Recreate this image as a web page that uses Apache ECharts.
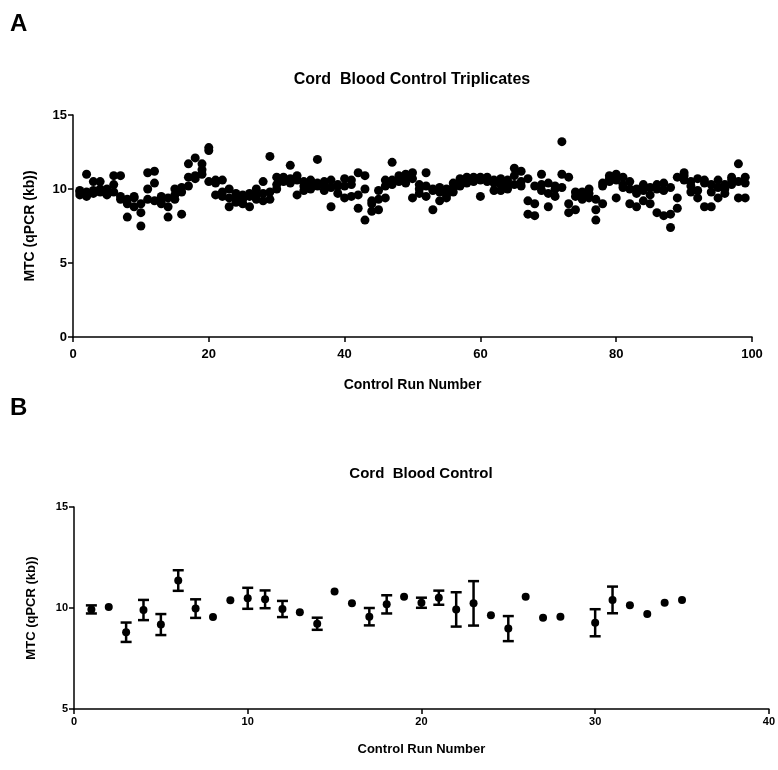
<!DOCTYPE html>
<html>
<head>
<meta charset="utf-8">
<script src="https://cdn.jsdelivr.net/npm/echarts@6/dist/echarts.min.js"></script>
<style>
html,body{margin:0;padding:0;background:#fff;}
#chart{width:778px;height:770px;}
</style>
</head>
<body>
<div id="chart"></div>
<script>
// Panel A: triplicate values per control run (runs 1..99)
var runsA = [];
for (var i = 1; i <= 99; i++) runsA.push(i);
var rep1 = [9.6,11.0,10.5,10.5,10.0,10.9,10.9,8.1,9.4,8.4,11.1,11.2,9.5,8.1,9.6,8.3,11.7,12.1,11.7,12.8,
            10.6,10.6,10.0,9.4,9.0,8.8,10.0,10.5,12.2,10.3,10.8,11.6,9.6,10.2,10.6,12.0,9.9,8.8,10.3,9.4,
            10.6,11.1,10.9,9.2,8.6,9.4,11.8,10.7,11.0,11.1,10.3,11.1,8.6,9.2,9.6,10.4,10.7,10.8,10.8,9.5,
            10.7,9.9,9.9,10.6,11.4,11.2,9.2,9.0,11.0,10.4,10.0,13.2,10.8,8.6,9.3,9.7,8.6,9.0,10.9,9.4,
            10.8,9.0,8.8,9.9,10.1,8.4,8.2,7.4,9.4,11.1,10.2,9.4,8.8,8.8,10.6,10.3,10.6,11.7,10.8];
var rep2 = [9.9,9.5,9.7,9.8,9.7,10.3,9.5,9.3,8.8,7.5,10.0,10.4,9.2,8.8,10.0,10.1,10.8,10.7,11.3,12.6,
            9.6,9.8,8.8,9.7,9.6,9.5,9.3,9.7,9.3,10.0,10.5,10.7,10.6,10.5,10.0,10.4,10.3,10.6,10.2,10.7,
            9.5,8.7,7.9,9.0,9.9,10.2,10.6,10.9,10.8,9.4,9.7,9.5,9.9,9.8,10.0,9.8,10.5,10.6,10.5,10.8,
            10.5,10.6,10.3,10.0,10.3,10.5,8.3,8.2,9.9,8.8,9.5,10.1,9.0,9.5,9.8,9.4,7.9,10.4,10.5,11.0,
            10.1,10.0,9.7,9.2,9.0,10.0,10.4,8.3,8.7,10.9,9.8,10.7,10.4,9.8,9.4,9.7,10.8,9.4,9.4];
var rep3 = [9.8,9.8,9.9,10.0,9.6,9.8,9.3,9.0,9.5,9.0,9.3,9.2,9.0,9.4,9.3,9.8,10.2,10.9,11.0,10.5,
            10.4,9.5,9.4,9.1,9.3,9.7,9.6,9.2,9.8,10.8,10.6,10.4,10.9,9.9,10.3,10.2,10.5,10.1,9.7,10.2,
            10.3,9.6,10.0,8.5,9.3,10.6,10.3,10.5,10.4,10.7,10.0,10.2,10.0,10.1,9.4,10.1,10.2,10.4,10.6,10.6,
            10.8,10.4,10.7,10.4,10.9,10.2,10.7,10.2,10.3,9.7,10.2,11.0,8.4,9.8,9.6,10.0,9.3,10.2,10.7,10.6,
            10.3,10.5,10.0,10.3,9.6,10.3,9.9,10.1,10.8,10.6,10.5,9.9,10.6,10.3,10.1,10.0,10.3,10.5,10.4];

// Panel B: mean and error (half-length) per control run
var runsB = [1,2,3,4,5,6,7,8,9,10,11,12,13,14,15,16,17,18,19,20,21,22,23,24,25,26,27,28,30,31,32,33,34,35];
var meanB = [9.93,10.05,8.80,9.90,9.18,11.36,9.97,9.55,10.38,10.48,10.43,9.95,9.79,9.22,10.82,10.23,9.57,10.18,10.56,10.26,
             10.51,9.93,10.23,9.64,8.98,10.56,9.52,9.57,9.27,10.40,10.13,9.70,10.26,10.40];
var errB  = [0.2,0,0.48,0.5,0.52,0.51,0.46,0,0,0.52,0.44,0.4,0,0.3,0,0,0.43,0.45,0,0.25,
             0.35,0.85,1.1,0,0.62,0,0,0,0.67,0.66,0,0,0,0];

var ticksAx = [0,20,40,60,80,100];
var ticksAy = [0,5,10,15];
var ticksBx = [0,10,20,30,40];
var ticksBy = [5,10,15];

var scatterA = [];
for (var k = 0; k < runsA.length; k++) {
  scatterA.push([runsA[k], rep1[k]]);
  scatterA.push([runsA[k], rep2[k]]);
  scatterA.push([runsA[k], rep3[k]]);
}
var meanData = runsB.map(function(r, i){ return [r, meanB[i]]; });
var errData = [];
runsB.forEach(function(r, i){ if (errB[i] > 0) errData.push([r, meanB[i]-errB[i], meanB[i]+errB[i]]); });

var FONT = 'Liberation Sans, Arial, sans-serif';
function axisCommon(extra){
  var base = {
    axisLine:{show:true, onZero:false, lineStyle:{color:'#000', width:1.5}},
    axisTick:{show:true, inside:false, length:5, lineStyle:{color:'#000', width:1.5}},
    splitLine:{show:false},
    axisLabel:{color:'#000', fontFamily:FONT, fontWeight:'bold', fontSize:13, margin:6},
    nameTextStyle:{color:'#000', fontFamily:FONT, fontWeight:'bold', fontSize:14}
  };
  for (var key in extra) base[key] = extra[key];
  return base;
}

var chart = echarts.init(document.getElementById('chart'), null, {renderer:'canvas'});
var option = {
  backgroundColor:'#fff',
  animation:false,
  grid:[
    {left:73, top:115, width:679, height:222},
    {left:74, top:507, width:696, height:202}
  ],
  xAxis:[
    axisCommon({gridIndex:0, type:'value', min:0, max:100, interval:20, name:'Control Run Number', nameLocation:'middle', nameGap:41,
      axisLabel:{color:'#000', fontFamily:FONT, fontWeight:'bold', fontSize:13, margin:11}}),
    axisCommon({gridIndex:1, type:'value', min:0, max:40, interval:10, name:'Control Run Number', nameLocation:'middle', nameGap:34,
      axisLabel:{color:'#000', fontFamily:FONT, fontWeight:'bold', fontSize:11, margin:7},
      nameTextStyle:{color:'#000', fontFamily:FONT, fontWeight:'bold', fontSize:13}})
  ],
  yAxis:[
    axisCommon({gridIndex:0, type:'value', min:0, max:15, interval:5, name:'MTC (qPCR (kb))', nameLocation:'middle', nameGap:36}),
    axisCommon({gridIndex:1, type:'value', min:5, max:15, interval:5, name:'MTC (qPCR (kb))', nameLocation:'middle', nameGap:36,
      axisLabel:{color:'#000', fontFamily:FONT, fontWeight:'bold', fontSize:11, margin:6},
      nameTextStyle:{color:'#000', fontFamily:FONT, fontWeight:'bold', fontSize:13}})
  ],
  graphic:[
    {type:'text', left:10, top:12, style:{text:'A', font:'bold 24px ' + FONT, fill:'#000'}},
    {type:'text', left:10, top:396, style:{text:'B', font:'bold 24px ' + FONT, fill:'#000'}},
    {type:'text', x:412, y:80, style:{text:'Cord  Blood Control Triplicates', font:'bold 16px ' + FONT, fill:'#000', textAlign:'center', textVerticalAlign:'middle'}},
    {type:'text', x:421, y:474, style:{text:'Cord  Blood Control', font:'bold 15px ' + FONT, fill:'#000', textAlign:'center', textVerticalAlign:'middle'}}
  ],
  series:[
    {type:'scatter', xAxisIndex:0, yAxisIndex:0, data:scatterA, symbol:'circle', symbolSize:9,
     itemStyle:{color:'#000', opacity:1}},
    {type:'custom', xAxisIndex:1, yAxisIndex:1, data:errData,
     renderItem:function(params, api){
       var x = api.value(0);
       var lo = api.coord([x, api.value(1)]);
       var hi = api.coord([x, api.value(2)]);
       var w = 5.5;
       var st = {stroke:'#000', lineWidth:2.5};
       return {type:'group', children:[
         {type:'line', shape:{x1:hi[0], y1:hi[1], x2:lo[0], y2:lo[1]}, style:st},
         {type:'line', shape:{x1:hi[0]-w, y1:hi[1], x2:hi[0]+w, y2:hi[1]}, style:st},
         {type:'line', shape:{x1:lo[0]-w, y1:lo[1], x2:lo[0]+w, y2:lo[1]}, style:st}
       ]};
     }},
    {type:'scatter', xAxisIndex:1, yAxisIndex:1, data:meanData, symbol:'circle', symbolSize:8,
     itemStyle:{color:'#000', opacity:1}, z:5}
  ]
};
chart.setOption(option);
</script>
</body>
</html>
